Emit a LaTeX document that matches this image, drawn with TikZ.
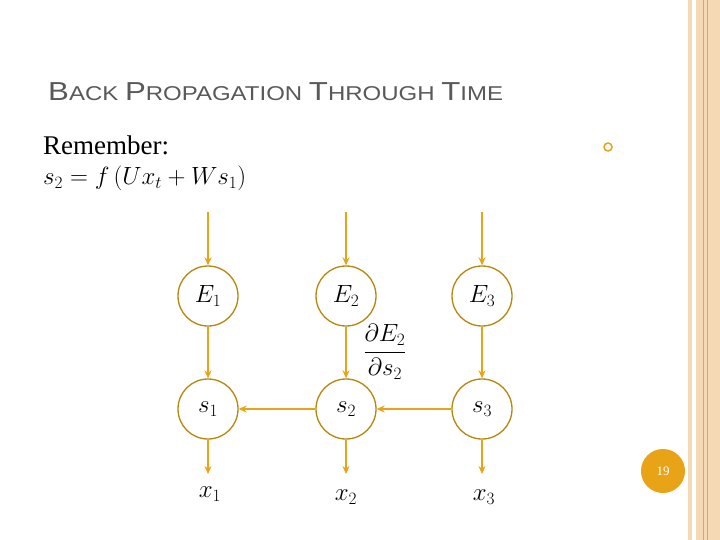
\documentclass[tikz,border=0pt]{standalone}
\usepackage{fontspec}
\usepackage{amsmath}
\usepackage{graphicx}
\newfontfamily\tsans{Liberation Sans}
\newfontfamily\tserif{Liberation Serif}
\definecolor{arr}{HTML}{E8A317}
\definecolor{ring}{HTML}{B8860B}
\definecolor{band}{HTML}{F5D9B5}
\definecolor{bandline}{HTML}{E8A64A}
\usetikzlibrary{arrows.meta}
\begin{document}
\begin{tikzpicture}[x=1pt,y=-1pt,
  st/.style={circle,draw=ring,line width=1.3pt,minimum size=60pt,inner sep=0pt,font=\fontsize{24}{28}\selectfont},
  ar/.style={arr,line width=1.4pt,-{Stealth[length=8pt,width=7pt]}},
  lab/.style={font=\fontsize{25}{28}\selectfont}]
\useasboundingbox (0,0) rectangle (720,540);
\fill[white] (0,0) rectangle (720,540);
\fill[band] (688,0) rectangle (692,540);
\fill[band] (696,0) rectangle (720,540);
\draw[bandline,line width=0.8pt] (703,0) -- (703,540);
\draw[bandline,line width=0.5pt] (707,0) -- (707,540);
\node[anchor=base west,text=black!65,inner sep=0] (title) at (48,101)
 {\scalebox{1.2}[1]{\tsans\fontsize{26}{28}\selectfont B\fontsize{20}{22}\selectfont ACK \fontsize{26}{28}\selectfont P\fontsize{20}{22}\selectfont ROPAGATION \fontsize{26}{28}\selectfont T\fontsize{20}{22}\selectfont HROUGH \fontsize{26}{28}\selectfont T\fontsize{20}{22}\selectfont IME}};
\node[anchor=base west,inner sep=0] (rem) at (43,155) {\tserif\fontsize{27}{30}\selectfont Remember:};
\node[anchor=base west,inner sep=0] (eq) at (43,185) {\fontsize{25}{28}\selectfont $s_2 = f\,(Ux_t + W s_1)$};
\node[circle,draw=arr,line width=1.5pt,minimum size=8pt,inner sep=0] (bul) at (608,147) {};
\node[circle,fill=arr,minimum size=44pt,inner sep=0,text=white,font=\tserif\fontsize{13}{14}\selectfont] (pg) at (663,471) {19};
\node[st] (E1) at (208,296) {$E_1$};
\node[st] (E2) at (346,296) {$E_2$};
\node[st] (E3) at (482,296) {$E_3$};
\node[st] (s1) at (208,409) {$s_1$};
\node[st] (s2) at (346,409) {$s_2$};
\node[st] (s3) at (482,409) {$s_3$};
\coordinate (t1) at (208,212);
\coordinate (t2) at (346,212);
\coordinate (t3) at (482,212);
\coordinate (b1) at (208,474);
\coordinate (b2) at (346,474);
\coordinate (b3) at (482,474);
\draw[ar] (t1) -- (E1); \draw[ar] (t2) -- (E2); \draw[ar] (t3) -- (E3);
\draw[ar] (E1) -- (s1); \draw[ar] (E2) -- (s2); \draw[ar] (E3) -- (s3);
\draw[ar] (s2) -- (s1); \draw[ar] (s3) -- (s2);
\draw[ar] (s1) -- (b1); \draw[ar] (s2) -- (b2); \draw[ar] (s3) -- (b3);
\node[lab] (x1) at (210,494) {$x_1$};
\node[lab] (x2) at (346,497) {$x_2$};
\node[lab] (x3) at (484,497) {$x_3$};
\node[lab] (frac) at (385,352) {$\dfrac{\partial E_2}{\partial s_2}$};
\end{tikzpicture}
\end{document}
